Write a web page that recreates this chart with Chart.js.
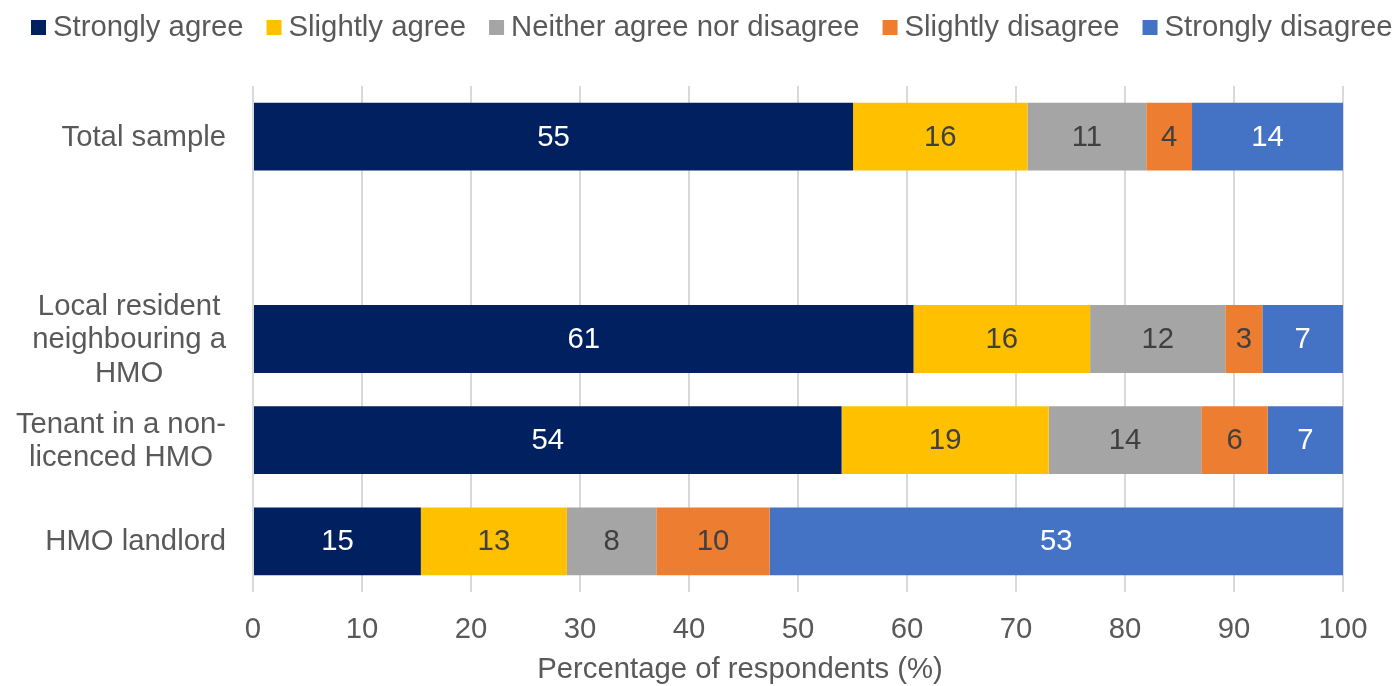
<!DOCTYPE html>
<html>
<head>
<meta charset="utf-8">
<script src="https://cdn.jsdelivr.net/npm/chart.js@4.4.0/dist/chart.umd.min.js"></script>
<style>
  html, body { margin: 0; padding: 0; background: #fff; }
</style>
</head>
<body>
<canvas id="myChart" width="1394" height="686"></canvas>
<script>
// categories (one empty slot between Total sample and the groups)
var categories = [
  ['Total sample'],
  [''],
  ['Local resident', 'neighbouring a', 'HMO'],
  ['Tenant in a non-', 'licenced HMO'],
  ['HMO landlord']
];
var seriesNames = ['Strongly agree', 'Slightly agree', 'Neither agree nor disagree', 'Slightly disagree', 'Strongly disagree'];
var seriesColors = ['#002060', '#FFC000', '#A5A5A5', '#ED7D31', '#4472C4'];
var valueColors = ['#FFFFFF', '#404040', '#404040', '#404040', '#FFFFFF'];

var stronglyAgree    = [55.05, null, 60.6, 54.0, 15.4];
var slightlyAgree    = [16.0,  null, 16.2, 19.0, 13.4];
var neither          = [10.9,  null, 12.4, 14.0, 8.2];
var slightlyDisagree = [4.2,   null, 3.4,  6.1,  10.4];
var stronglyDisagree = [13.85, null, 7.4,  6.9,  52.6];

var xTitle = 'Percentage of respondents (%)';

var FONT = "'Liberation Sans', Arial, sans-serif";
var FS = 29.3;
var TEXT = '#595959';

var series = [stronglyAgree, slightlyAgree, neither, slightlyDisagree, stronglyDisagree];
var datasets = series.map(function (vals, i) {
  return {
    label: seriesNames[i],
    data: vals,
    backgroundColor: seriesColors[i],
    borderWidth: 0,
    barPercentage: 0.67,
    categoryPercentage: 1.0
  };
});

var extras = {
  id: 'extras',
  afterDatasetsDraw: function (chart) {
    var ctx = chart.ctx;
    ctx.save();
    ctx.font = FS + 'px ' + FONT;
    ctx.textAlign = 'center';
    ctx.textBaseline = 'middle';
    chart.data.datasets.forEach(function (ds, di) {
      var meta = chart.getDatasetMeta(di);
      meta.data.forEach(function (bar, i) {
        var v = ds.data[i];
        if (v == null) return;
        ctx.fillStyle = valueColors[di];
        ctx.fillText(String(Math.round(v)), (bar.x + bar.base) / 2, bar.y + 1);
      });
    });
    ctx.restore();
  },
  afterDraw: function (chart) {
    var ctx = chart.ctx;
    ctx.save();
    ctx.font = FS + 'px ' + FONT;
    ctx.textBaseline = 'middle';

    // legend
    var x = 31, y = 28;
    seriesNames.forEach(function (name, i) {
      ctx.fillStyle = seriesColors[i];
      ctx.fillRect(x, y - 8, 15, 15);
      x += 22;
      ctx.fillStyle = TEXT;
      ctx.textAlign = 'left';
      ctx.fillText(name, x, y);
      x += ctx.measureText(name).width + 23;
    });

    // category labels: centred lines, block right-aligned to the axis
    var yScale = chart.scales.y;
    var right = chart.chartArea.left - 27;
    var lh = 33.5;
    categories.forEach(function (lines, i) {
      var cy = yScale.getPixelForValue(i);
      var w = 0;
      lines.forEach(function (l) { w = Math.max(w, ctx.measureText(l).width); });
      var cx = right - w / 2;
      var top = cy - (lines.length - 1) * lh / 2;
      ctx.textAlign = 'center';
      ctx.fillStyle = TEXT;
      lines.forEach(function (l, k) {
        ctx.fillText(l, cx, top + k * lh + 1);
      });
    });

    // x axis title
    ctx.textAlign = 'center';
    ctx.fillText(xTitle, 740, 670);
    ctx.restore();
  }
};

var ctx = document.getElementById('myChart').getContext('2d');
var myChart = new Chart(ctx, {
  type: 'bar',
  data: {
    labels: categories,
    datasets: datasets
  },
  options: {
    responsive: false,
    animation: false,
    indexAxis: 'y',
    layout: { padding: { top: 86, right: 51, left: 0, bottom: 0 } },
    plugins: {
      legend: { display: false },
      tooltip: { enabled: false }
    },
    scales: {
      x: {
        stacked: true,
        min: 0,
        max: 100,
        ticks: { stepSize: 10, color: TEXT, font: { family: FONT, size: FS }, padding: 20, maxRotation: 0 },
        grid: { color: '#D9D9D9', lineWidth: 2, drawTicks: false },
        border: { display: false },
        afterFit: function (s) { s.height = 94; }
      },
      y: {
        stacked: true,
        ticks: { display: false },
        grid: { display: false },
        border: { display: false },
        afterFit: function (s) { s.width = 253; }
      }
    }
  },
  plugins: [extras]
});
</script>
</body>
</html>
